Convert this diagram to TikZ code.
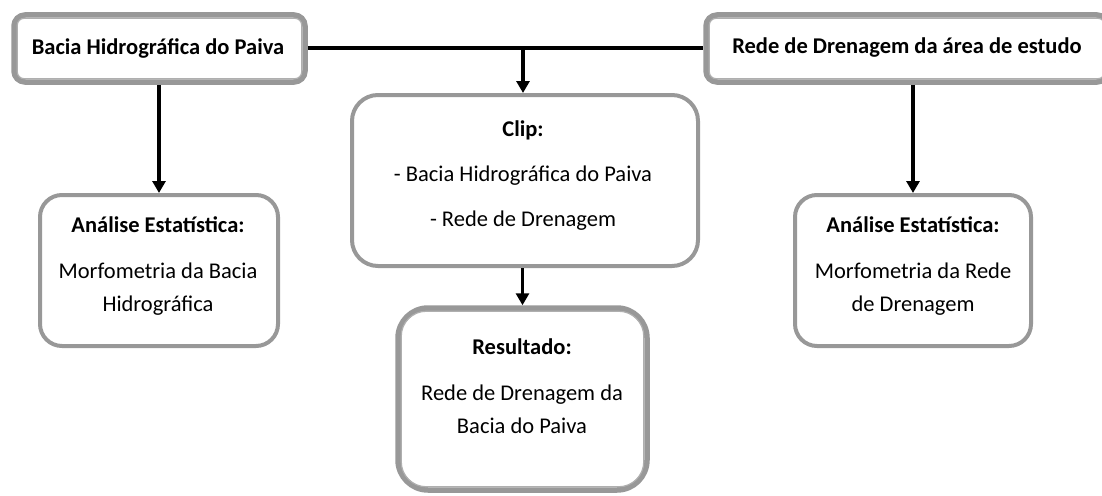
\documentclass[tikz,border=0pt]{standalone}
\usepackage{fontspec}
\setmainfont{Carlito}
\usetikzlibrary{arrows.meta}
\definecolor{boxgray}{RGB}{152,152,152}
\definecolor{innergray}{RGB}{175,175,175}
\tikzset{
  dblbox/.style={draw=boxgray, line width=5.5pt, rounded corners=#1, fill=white, inner sep=0pt},
  sglbox/.style={draw=boxgray, line width=4pt, rounded corners=#1, fill=white, inner sep=0pt},
  innerline/.style={draw=innergray, line width=1.2pt},
  txt/.style={font=\fontsize{22.5}{33}\selectfont, align=center, inner sep=0pt, text=black},
  conn/.style={line width=4pt, black},
  arr/.style={line width=3.6pt, black, -{Triangle[width=13pt,length=12pt]}}
}
\begin{document}
\begin{tikzpicture}[x=1pt,y=-1pt]
\useasboundingbox (0,0) rectangle (1102,495);
\clip (0,0) rectangle (1102,495);
% boxes
\node[dblbox=11pt, minimum width=291pt, minimum height=67pt] (tl) at (159.5,48.5) {};
\node[dblbox=11pt, minimum width=402pt, minimum height=67pt] (tr) at (907,48.5) {};
\node[sglbox=26pt, minimum width=346pt, minimum height=171pt] (clip) at (525,180.5) {};
\node[sglbox=22pt, minimum width=238pt, minimum height=151pt] (left) at (159,270.5) {};
\node[sglbox=22pt, minimum width=236pt, minimum height=151pt] (right) at (913,270.5) {};
\node[dblbox=30pt, minimum width=249pt, minimum height=182pt] (res) at (522.5,399) {};
% inner lines of double boxes
\draw[innerline, rounded corners=7pt] ([shift={(6pt,-6pt)}]tl.north west) rectangle ([shift={(-6pt,6pt)}]tl.south east);
\draw[innerline, rounded corners=7pt] ([shift={(6pt,-6pt)}]tr.north west) rectangle ([shift={(-6pt,6pt)}]tr.south east);
\draw[innerline, rounded corners=25pt] ([shift={(6pt,-6pt)}]res.north west) rectangle ([shift={(-6pt,6pt)}]res.south east);
% texts
\node[txt] (tltxt) at (158,48) {\textbf{Bacia Hidrográfica do Paiva}};
\node[txt] (trtxt) at (907,48) {\textbf{Rede de Drenagem da área de estudo}};
\node[txt] (cliptxt) at (523,176) {\textbf{Clip:}\\[12pt] - Bacia Hidrográfica do Paiva\\[12pt] - Rede de Drenagem};
\node[txt] (lefttxt) at (158,266) {\textbf{Análise Estatística:}\\[13pt] Morfometria da Bacia\\ Hidrográfica};
\node[txt] (righttxt) at (913,266) {\textbf{Análise Estatística:}\\[13pt] Morfometria da Rede\\ de Drenagem};
\node[txt] (restxt) at (522,386) {\textbf{Resultado:}\\[13pt] Rede de Drenagem da\\ Bacia do Paiva};
% connectors
\coordinate (j) at (523,0 |- tl.east);
\draw[conn] (tl.east) -- (tr.west);
\draw[arr] (j) -- (j |- clip.north);
\draw[arr] (left.north |- tl.south) -- (left.north);
\draw[arr] (right.north |- tr.south) -- (right.north);
\draw[arr] (res.north |- clip.south) -- (res.north);
\end{tikzpicture}
\end{document}
